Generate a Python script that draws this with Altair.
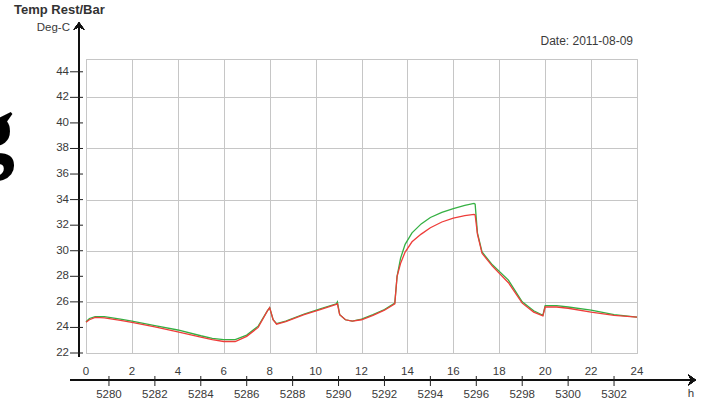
import altair as alt
import pandas as pd

# Hours of the day (0 = 5279 h of operation) and the two temperature traces, deg C
hours = [0.0, 0.15, 0.4, 0.8, 1.5, 2.0, 3.0, 4.0, 5.0, 5.5, 6.0, 6.5, 7.0, 7.5,
         7.9, 8.0, 8.15, 8.3, 8.7, 9.5, 10.2, 10.9, 10.95, 11.05, 11.3, 11.6,
         12.0, 12.5, 13.0, 13.45, 13.55, 13.7, 13.9, 14.2, 14.6, 15.0, 15.5,
         16.0, 16.5, 16.9, 16.95, 17.05, 17.25, 17.7, 18.4, 19.0, 19.5, 19.9,
         20.0, 20.5, 21.0, 22.0, 23.0, 24.0]
temp_green = [24.45, 24.7, 24.85, 24.85, 24.65, 24.5, 24.15, 23.8, 23.35, 23.15,
              23.05, 23.05, 23.4, 24.1, 25.3, 25.55, 24.6, 24.3, 24.5, 25.05,
              25.45, 25.85, 26.0, 25.0, 24.6, 24.5, 24.65, 25.0, 25.4, 25.9,
              28.0, 29.4, 30.5, 31.4, 32.1, 32.6, 33.0, 33.3, 33.55, 33.7,
              33.65, 31.4, 29.9, 28.9, 27.7, 26.0, 25.3, 24.95, 25.7, 25.7,
              25.6, 25.35, 25.0, 24.8]
temp_red = [24.4, 24.6, 24.78, 24.75, 24.55, 24.4, 24.05, 23.65, 23.25, 23.05,
            22.9, 22.9, 23.3, 24.0, 25.3, 25.55, 24.6, 24.25, 24.45, 25.0,
            25.4, 25.8, 25.85, 25.0, 24.6, 24.5, 24.6, 24.95, 25.35, 25.85,
            28.0, 29.0, 29.9, 30.7, 31.3, 31.8, 32.25, 32.55, 32.75, 32.85,
            32.8, 31.3, 29.8, 28.8, 27.5, 25.9, 25.2, 24.9, 25.6, 25.6,
            25.5, 25.2, 24.95, 24.8]

# Axis labelling
y_ticks = list(range(22, 45, 2))               # 22 ... 44
hour_labels = list(range(0, 25, 2))            # 0 ... 24
op_hours = list(range(5280, 5303, 2))          # 5280 ... 5302
op_hour_pos = [h - 5279 for h in op_hours]     # position on the hour scale

W, H = 551, 294
FONT = "Liberation Sans"
TXT = "#3a3a3a"

df = pd.DataFrame({
    "hour": hours * 2,
    "temp": temp_green + temp_red,
    "series": ["green"] * len(hours) + ["red"] * len(hours),
})

x_scale = alt.Scale(domain=[0, 24], nice=False, zero=False)
y_scale = alt.Scale(domain=[22, 45], nice=False, zero=False)

grid_axis_x = alt.Axis(values=list(range(0, 25)), grid=True, labels=False,
                       ticks=False, domain=False, title=None,
                       gridColor="#c6c6c6", gridWidth=1)
grid_axis_y = alt.Axis(values=y_ticks + [45], grid=True, labels=False,
                       ticks=False, domain=False, title=None,
                       gridColor="#c6c6c6", gridWidth=1)

lines = alt.Chart(df).mark_line(strokeWidth=1.3, interpolate="linear").encode(
    x=alt.X("hour:Q", scale=x_scale, axis=grid_axis_x),
    y=alt.Y("temp:Q", scale=y_scale, axis=grid_axis_y),
    color=alt.Color("series:N", legend=None,
                    scale=alt.Scale(domain=["green", "red"],
                                    range=["#35b043", "#ee3d3a"])),
    order=alt.Order("hour:Q"),
)

# Y axis: line with arrow, ticks and labels
yt = pd.DataFrame({"v": y_ticks})
y_line = alt.Chart(yt).mark_rule(color="#111", strokeWidth=1.3).encode(
    x=alt.value(-7), y=alt.value(-33), y2=alt.value(298))
y_tick_marks = alt.Chart(yt).mark_rule(color="#222", strokeWidth=1).encode(
    y=alt.Y("v:Q", scale=y_scale), x=alt.value(-16), x2=alt.value(-3))
y_labels = alt.Chart(yt).mark_text(align="right", baseline="middle", font=FONT,
                                   fontSize=11.5, color=TXT).encode(
    y=alt.Y("v:Q", scale=y_scale), x=alt.value(-17), text="v:Q")

arrow_shape = "M-1,0.7 L0,-0.7 L1,0.7 L0,0.2 Z"
y_arrow = alt.Chart(yt).mark_point(shape=arrow_shape, filled=True, size=120,
                                   color="#111", opacity=1).encode(
    x=alt.value(-7), y=alt.value(-33))

# X axis: line with arrow, ticks at operating hours, two label rows
xl = pd.DataFrame({"h": hour_labels})
xo = pd.DataFrame({"pos": op_hour_pos, "lab": op_hours})
x_line = alt.Chart(xl).mark_rule(color="#111", strokeWidth=1.3).encode(
    y=alt.value(321), x=alt.value(-16), x2=alt.value(606))
x_arrow = alt.Chart(xl).mark_point(shape=arrow_shape, filled=True, size=120,
                                   color="#111", opacity=1, angle=90).encode(
    x=alt.value(606), y=alt.value(321))
x_tick_marks = alt.Chart(xo).mark_rule(color="#222", strokeWidth=1).encode(
    x=alt.X("pos:Q", scale=x_scale), y=alt.value(317), y2=alt.value(327))
hour_text = alt.Chart(xl).mark_text(baseline="middle", font=FONT, fontSize=11.5,
                                    color=TXT).encode(
    x=alt.X("h:Q", scale=x_scale), y=alt.value(313), text="h:Q")
op_text = alt.Chart(xo).mark_text(baseline="middle", font=FONT, fontSize=11.5,
                                  color=TXT).encode(
    x=alt.X("pos:Q", scale=x_scale), y=alt.value(336), text="lab:Q")

# Free-standing captions
def caption(txt, x, y, size=12, weight="normal", color=TXT, align="left",
            font=FONT, baseline="middle"):
    return alt.Chart(pd.DataFrame({"t": [txt]})).mark_text(
        align=align, baseline=baseline, font=font, fontSize=size,
        fontWeight=weight, color=color).encode(
        x=alt.value(x), y=alt.value(y), text="t:N")

captions = [
    caption("Temp Rest/Bar", -72, -49, size=13, weight="bold", color="#333"),
    caption("Deg-C", -16, -31, size=11.5, align="right"),
    caption("Date: 2011-08-09", 547, -18, size=12, align="right"),
    caption("h", 605, 335, size=11.5, align="center"),
    caption("g", -71, 103, size=96, weight="bold", color="#000",
            align="right", baseline="alphabetic", font="Liberation Serif"),
]

chart = alt.layer(
    lines, y_line, y_tick_marks, y_labels, y_arrow,
    x_line, x_arrow, x_tick_marks, hour_text, op_text, *captions,
).properties(
    width=W, height=H,
    autosize=alt.AutoSizeParams(type="none"),
    padding={"left": 86, "top": 59, "right": 70, "bottom": 52},
    background="white",
).configure_view(stroke="#c0c0c0", strokeWidth=1)

chart.save("out.html", embed_options={"renderer": "svg", "actions": False})
